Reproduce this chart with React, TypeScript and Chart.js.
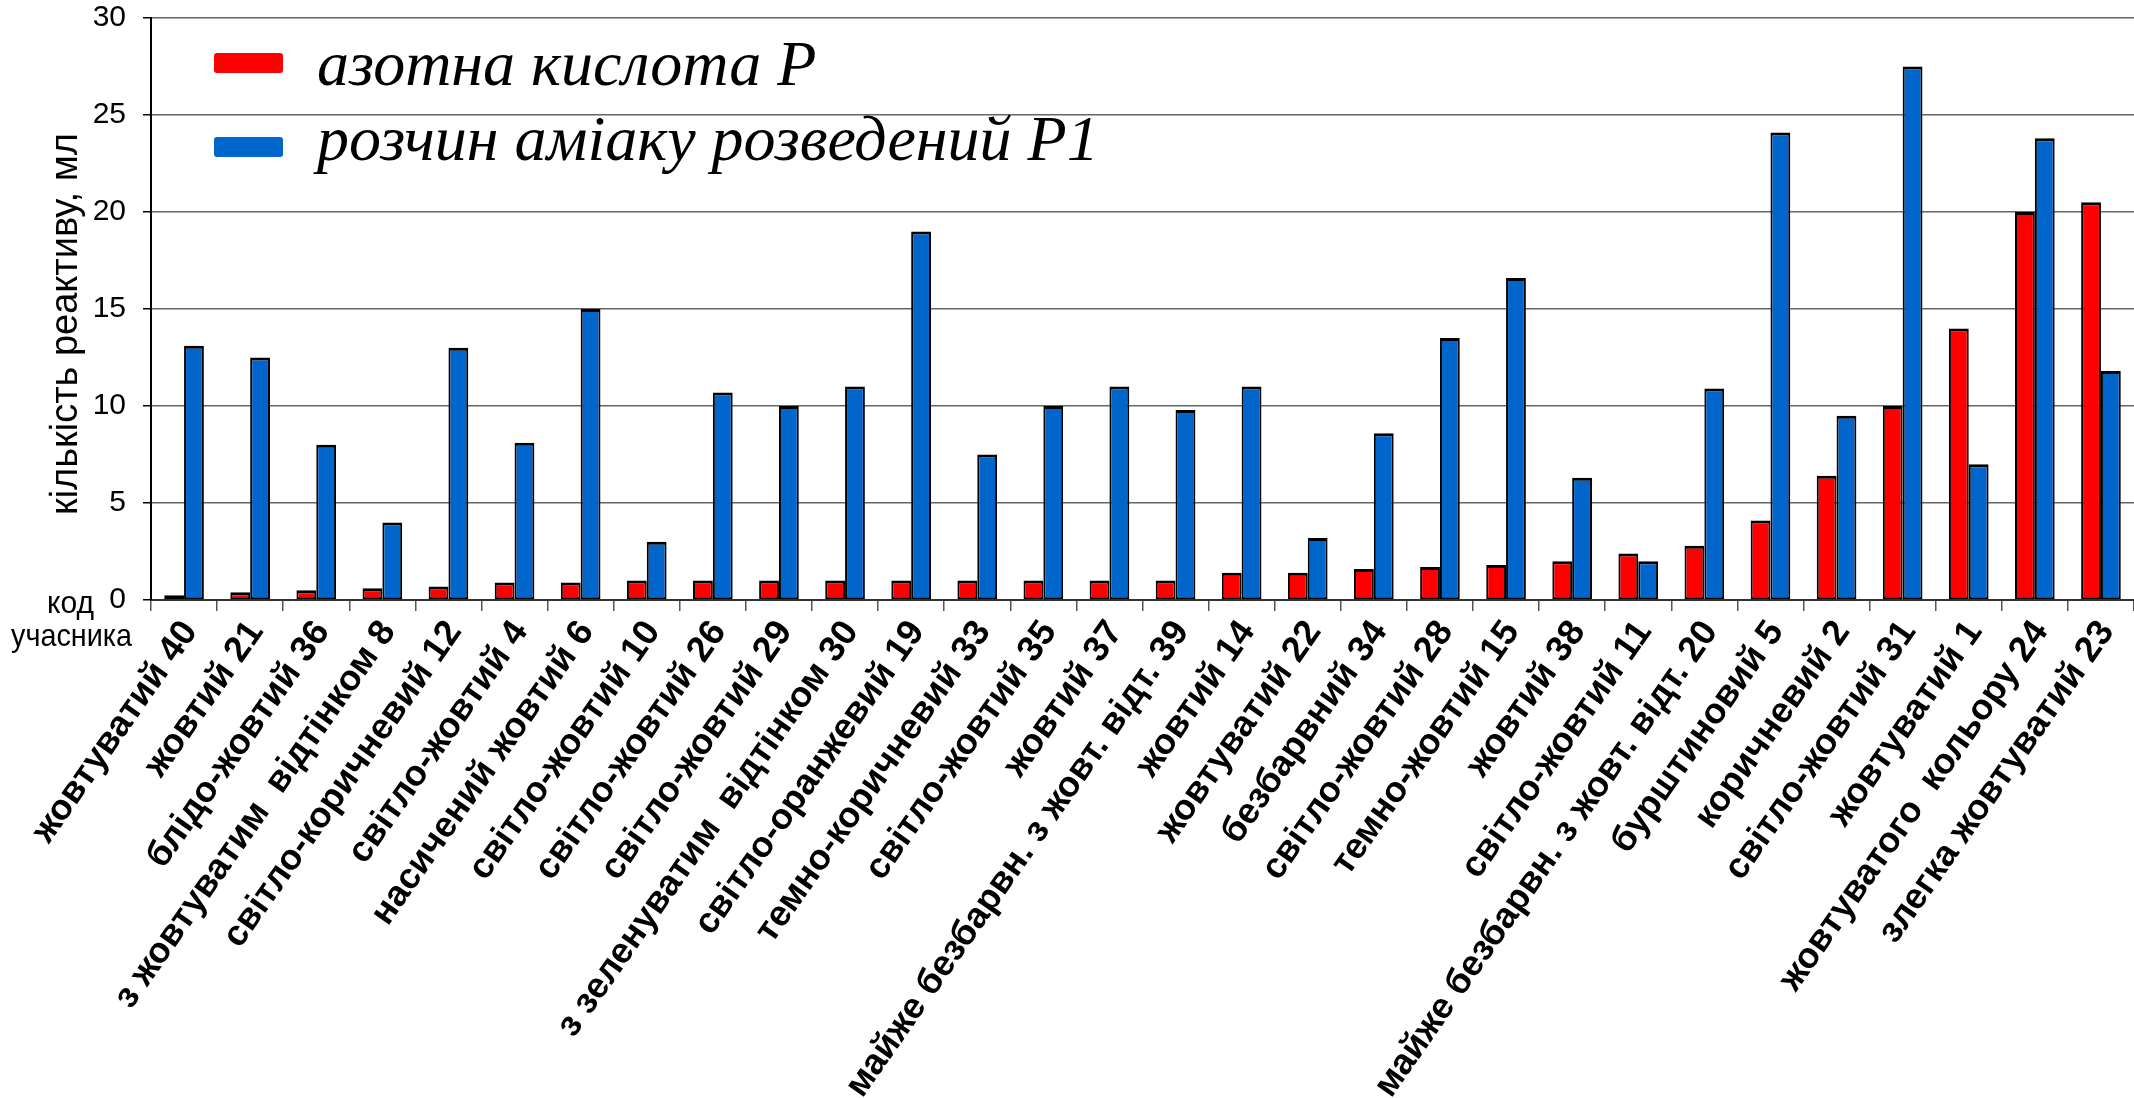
import React, { useEffect, useRef } from "react";
import { Chart, registerables } from "chart.js";

Chart.register(...registerables);

const categories = [
  "жовтуватий 40",
  "жовтий 21",
  "блідо-жовтий 36",
  "з жовтуватим  відтінком 8",
  "світло-коричневий 12",
  "світло-жовтий 4",
  "насичений жовтий 6",
  "світло-жовтий 10",
  "світло-жовтий 26",
  "світло-жовтий 29",
  "з зеленуватим  відтінком 30",
  "світло-оранжевий 19",
  "темно-коричневий 33",
  "світло-жовтий 35",
  "жовтий 37",
  "майже безбарвн. з жовт. відт. 39",
  "жовтий 14",
  "жовтуватий 22",
  "безбарвний 34",
  "світло-жовтий 28",
  "темно-жовтий 15",
  "жовтий 38",
  "світло-жовтий 11",
  "майже безбарвн. з жовт. відт. 20",
  "бурштиновий 5",
  "коричневий 2",
  "світло-жовтий 31",
  "жовтуватий 1",
  "жовтуватого  кольору 24",
  "злегка жовтуватий 23",
];

const nitricAcid = [
  0.25, 0.4, 0.5, 0.6, 0.7, 0.9, 0.9, 1.0, 1.0, 1.0, 1.0, 1.0, 1.0, 1.0, 1.0,
  1.0, 1.4, 1.4, 1.6, 1.7, 1.8, 2.0, 2.4, 2.8, 4.1, 6.4, 10.0, 14.0, 20.0, 20.5,
];

const ammonia = [
  13.1, 12.5, 8.0, 4.0, 13.0, 8.1, 15.0, 3.0, 10.7, 10.0, 11.0, 19.0, 7.5, 10.0,
  11.0, 9.8, 11.0, 3.2, 8.6, 13.5, 16.6, 6.3, 2.0, 10.9, 24.1, 9.5, 27.5, 7.0,
  23.8, 11.8,
];

const seriesNames = ["азотна кислота Р", "розчин аміаку розведений Р1"];
const seriesColors = ["#FF0000", "#0066CC"];
const yAxisTitle = "кількість реактиву, мл";
const cornerLabels = ["код", "учасника"];
const yMin = 0;
const yMax = 30;
const yStep = 5;

const SANS = '"Liberation Sans", Arial, sans-serif';
const SERIF = '"Liberation Serif", "Times New Roman", serif';

export default function App() {
  const ref = useRef<HTMLCanvasElement | null>(null);

  useEffect(() => {
    if (!ref.current) return;

    const overlay = {
      id: "overlay",
      afterDraw(chart: any) {
        const ctx: CanvasRenderingContext2D = chart.ctx;
        ctx.save();
        // legend
        seriesNames.forEach((name, i) => {
          const sy = 53 + i * 84;
          ctx.fillStyle = seriesColors[i];
          ctx.beginPath();
          (ctx as any).roundRect(214, sy, 69, 20, 3);
          ctx.fill();
          ctx.fillStyle = "#000";
          ctx.font = "italic 64px " + SERIF;
          ctx.textAlign = "left";
          ctx.textBaseline = "alphabetic";
          ctx.fillText(name, 317, 85 + i * 75);
        });
        // y axis title, sized to span its measured length
        ctx.save();
        ctx.font = "100px " + SANS;
        const w100 = ctx.measureText(yAxisTitle).width || 1;
        const size = Math.round((100 * 380) / w100);
        ctx.translate(77, 324);
        ctx.rotate(-Math.PI / 2);
        ctx.font = size + "px " + SANS;
        ctx.textAlign = "center";
        ctx.textBaseline = "alphabetic";
        ctx.fillStyle = "#000";
        ctx.fillText(yAxisTitle, 0, 0);
        ctx.restore();
        // corner labels
        ctx.font = "32px " + SANS;
        ctx.fillStyle = "#000";
        ctx.textBaseline = "alphabetic";
        ctx.textAlign = "right";
        ctx.fillText(cornerLabels[0], 94, 613, 47);
        ctx.textAlign = "left";
        ctx.fillText(cornerLabels[1], 11, 646, 121);
        ctx.restore();
      },
    };

    const border = { top: 3, left: 2, right: 2, bottom: 2 };

    const options: any = {
      responsive: false,
      animation: false,
      layout: { padding: { left: 0, right: -5, top: 18, bottom: 0 } },
      datasets: {
        bar: { categoryPercentage: 0.6, barPercentage: 1.0 },
      },
      plugins: {
        legend: { display: false },
        tooltip: { enabled: false },
        title: { display: false },
      },
      scales: {
        x: {
          grid: {
            display: true,
            drawOnChartArea: false,
            drawTicks: true,
            tickLength: 11,
            color: "#555",
            lineWidth: 1.5,
          },
          border: { display: true, color: "#333", width: 2 },
          ticks: {
            autoSkip: false,
            minRotation: 55,
            maxRotation: 55,
            padding: 2,
            labelOffset: 6,
            color: "#000",
            font: { family: SANS, size: 36, weight: "bold" },
          },
          afterFit: (scale: any) => {
            scale.height = 498;
            scale.paddingLeft = 0;
            scale.paddingRight = 0;
            scale.paddingTop = 0;
            scale.paddingBottom = 0;
          },
        },
        y: {
          min: yMin,
          max: yMax,
          grid: {
            color: "#666",
            lineWidth: 1.5,
            drawTicks: true,
            tickLength: 8,
            tickColor: "#000",
          },
          border: { display: true, color: "#000", width: 2 },
          ticks: {
            stepSize: yStep,
            padding: 17,
            color: "#000",
            font: { family: SANS, size: 30 },
          },
          afterFit: (scale: any) => {
            scale.width = 151;
            scale.paddingLeft = 0;
            scale.paddingRight = 0;
            scale.paddingTop = 0;
            scale.paddingBottom = 0;
          },
        },
      },
    };

    const chart = new Chart(ref.current, {
      type: "bar",
      data: {
        labels: categories,
        datasets: [
          {
            label: seriesNames[0],
            data: nitricAcid,
            backgroundColor: seriesColors[0],
            borderColor: "#000",
            borderWidth: border,
            borderSkipped: false,
          },
          {
            label: seriesNames[1],
            data: ammonia,
            backgroundColor: seriesColors[1],
            borderColor: "#000",
            borderWidth: border,
            borderSkipped: false,
          },
        ],
      },
      options,
      plugins: [overlay],
    } as any);

    return () => chart.destroy();
  }, []);

  return (
    <div style={{ position: "fixed", left: 0, top: 0, width: 2134, height: 1098, background: "#fff" }}>
      <canvas ref={ref} width={2134} height={1098} style={{ display: "block", width: 2134, height: 1098 }} />
    </div>
  );
}
